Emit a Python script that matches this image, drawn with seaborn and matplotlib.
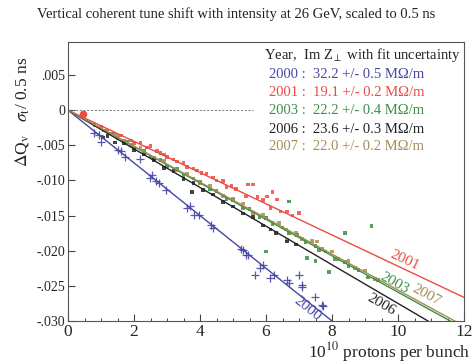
import numpy as np
import pandas as pd
import matplotlib
matplotlib.use('Agg')
import matplotlib.pyplot as plt
from matplotlib.ticker import FuncFormatter, MultipleLocator
import seaborn as sns

# ---- data ----
years = ['2000', '2001', '2003', '2006', '2007']
impedance = ['32.2 +/- 0.5', '19.1 +/- 0.2', '22.2 +/- 0.4', '23.6 +/- 0.3', '22.0 +/- 0.2']
fit_slope = [-0.00375, -0.00222, -0.00259, -0.00275, -0.00256]
colors = ['#4646a6', '#ee4a44', '#3a9044', '#222222', '#a58c55']

x2000 = [0.78, 0.93, 1.0, 1.52, 1.6, 1.73, 2.17, 2.47, 2.55, 2.68, 2.77, 2.98, 3.6, 3.7,
         3.81, 3.96, 4.32, 4.4, 5.25, 5.3, 5.39, 5.45, 5.68, 5.83, 5.9, 6.13, 6.25, 6.64,
         6.7, 7.0, 7.08, 7.1, 7.47, 7.7, 7.74]
y2000 = [-0.0032, -0.0036, -0.0046, -0.0056, -0.0058, -0.0066, -0.0070, -0.0096, -0.0092,
         -0.0101, -0.0103, -0.0113, -0.0139, -0.0136, -0.0149, -0.0149, -0.0163, -0.0167,
         -0.0198, -0.0199, -0.0206, -0.0206, -0.0234, -0.0224, -0.0220, -0.0239, -0.0234,
         -0.0241, -0.0246, -0.0234, -0.0251, -0.0249, -0.0266, -0.0277, -0.0279]

x2001 = [1.0, 1.2, 1.4, 1.6, 1.7, 1.9, 2.0, 2.2, 2.4, 2.5, 2.7, 2.8, 2.9, 3.0, 3.2, 3.3,
         3.5, 3.6, 3.8, 3.9, 4.05, 4.2, 4.4, 4.5, 4.7, 4.8, 4.95, 5.1, 5.4, 5.45, 5.6,
         5.74, 5.9, 6.04, 6.14, 6.2, 6.34, 6.44, 6.64, 6.8, 7.0]
y2001 = [-0.0024, -0.0029, -0.0033, -0.0036, -0.0044, -0.0043, -0.0047, -0.0046, -0.0053,
         -0.0051, -0.0058, -0.0061, -0.0063, -0.0067, -0.0070, -0.0073, -0.0075, -0.0081,
         -0.0083, -0.0086, -0.0089, -0.0090, -0.0096, -0.0100, -0.0101, -0.0109, -0.0108,
         -0.0112, -0.0123, -0.0106, -0.0106, -0.0124, -0.0128, -0.0123, -0.0139, -0.0116,
         -0.0127, -0.0144, -0.0144, -0.0150, -0.0146]
first_2001 = (0.45, -0.0006)

x2003 = [0.8, 1.1, 1.3, 1.5, 1.8, 2.0, 2.3, 2.5, 2.8, 3.0, 3.3, 3.5, 3.8, 4.0, 4.3, 4.5,
         4.8, 5.0, 5.3, 5.5, 5.8, 6.0, 6.2, 6.5, 6.7, 6.94, 7.2, 7.5, 7.6, 7.8, 8.1, 8.4,
         8.5, 8.8, 9.1, 9.4, 6.0, 7.25, 7.5, 7.9, 8.4, 6.7, 9.2]
y2003 = [-0.0021, -0.0029, -0.0033, -0.0040, -0.0045, -0.0053, -0.0058, -0.0066, -0.0071,
         -0.0079, -0.0084, -0.0092, -0.0097, -0.0102, -0.0113, -0.0115, -0.0126, -0.0128,
         -0.0139, -0.0141, -0.0152, -0.0153, -0.0162, -0.0167, -0.0175, -0.0178, -0.0188,
         -0.0193, -0.0199, -0.0201, -0.0212, -0.0216, -0.0222, -0.0227, -0.0238, -0.0242,
         -0.0201, -0.0210, -0.0215, -0.0230, -0.0175, -0.0130, -0.0165]

x2006 = [1.07, 1.2, 1.43, 1.7, 2.0, 2.3, 2.6, 2.9, 3.2, 3.5, 3.76, 3.8, 4.1, 4.4, 4.7,
         5.0, 5.3, 5.6, 5.9, 6.14, 6.3, 6.64, 6.9]
y2006 = [-0.0039, -0.0037, -0.0046, -0.0047, -0.0057, -0.0063, -0.0071, -0.0082, -0.0087,
         -0.0098, -0.0116, -0.0104, -0.0114, -0.0120, -0.0131, -0.0137, -0.0147, -0.0152,
         -0.0164, -0.0170, -0.0175, -0.0187, -0.0191]

x2007 = [1.5, 1.9, 2.2, 2.6, 2.9, 3.3, 3.6, 4.0, 4.3, 4.7, 5.0, 5.3, 5.6, 5.9, 6.2, 6.4,
         6.6, 6.9, 7.1, 7.4, 7.7, 8.0, 8.2, 8.5, 8.7, 9.0, 9.3, 6.64, 7.55]
y2007 = [-0.0037, -0.0050, -0.0054, -0.0068, -0.0072, -0.0086, -0.0090, -0.0104, -0.0108,
         -0.0122, -0.0126, -0.0133, -0.0146, -0.0149, -0.0160, -0.0161, -0.0170, -0.0174,
         -0.0183, -0.0186, -0.0198, -0.0201, -0.0212, -0.0215, -0.0225, -0.0228, -0.0240,
         -0.0184, -0.0187]

dots = pd.concat([
    pd.DataFrame({'x': x2001, 'y': y2001, 'year': '2001'}),
    pd.DataFrame({'x': x2003, 'y': y2003, 'year': '2003'}),
    pd.DataFrame({'x': x2007, 'y': y2007, 'year': '2007'}),
    pd.DataFrame({'x': x2006, 'y': y2006, 'year': '2006'}),
])
crosses = pd.DataFrame({'x': x2000, 'y': y2000, 'year': '2000'})

xlim = (0, 12)
ylim = (-0.030, 0.0097)
fits = pd.concat([pd.DataFrame({'x': list(xlim), 'y': [s * v for v in xlim], 'year': yr})
                  for yr, s in zip(years, fit_slope)])
palette = dict(zip(years, colors))

# ---- style ----
sns.set_theme(style='ticks')
plt.rcParams['font.family'] = ['Liberation Serif', 'DejaVu Serif']
plt.rcParams['mathtext.fontset'] = 'stix'

fig = plt.figure(figsize=(4.73, 3.64), dpi=100)
ax = fig.add_axes([68 / 473, 1 - 321 / 364, 396 / 473, 279 / 364])

ax.hlines(0, 0, 5.6, colors='#666666', linestyles=(0, (2.5, 2)), linewidth=0.6)
sns.lineplot(data=fits, x='x', y='y', hue='year', palette=palette, linewidth=1.0,
             legend=False, ax=ax)
sns.scatterplot(data=dots, x='x', y='y', hue='year', palette=palette, s=7,
                marker='s', linewidth=0, alpha=0.85, legend=False, ax=ax)
sns.scatterplot(data=crosses, x='x', y='y', color=colors[0], marker='+', s=40,
                linewidth=0.9, alpha=0.9, legend=False, ax=ax)
ax.plot(*first_2001, 'o', color=colors[1], markersize=4.5)

ax.set_xlim(*xlim)
ax.set_ylim(*ylim)
ax.set_xlabel('')
ax.set_ylabel('')
ax.xaxis.set_major_locator(MultipleLocator(2))
ax.xaxis.set_minor_locator(MultipleLocator(0.5))
ax.yaxis.set_major_locator(MultipleLocator(0.005))


def yfmt(v, pos):
    if abs(v) < 1e-9:
        return '0'
    s = f'{v:.3f}'
    return s.replace('0.', '.', 1)


ax.yaxis.set_major_formatter(FuncFormatter(yfmt))
ax.tick_params(axis='both', which='major', direction='in', length=5, width=0.8,
               color='#444444', pad=2)
ax.tick_params(axis='x', which='minor', direction='in', length=2.5, width=0.7,
               color='#444444')
ax.tick_params(axis='x', labelsize=12.5)
ax.tick_params(axis='y', labelsize=10)
for sp in ax.spines.values():
    sp.set_color('#555555')
    sp.set_linewidth(0.8)

# rotated labels along the fit lines
label_pos = {'2000': (7.25, -0.0283), '2001': (10.2, -0.0214), '2003': (9.9, -0.0246),
             '2007': (10.85, -0.0264), '2006': (9.5, -0.0277)}
for yr, s, c in zip(years, fit_slope, colors):
    p0 = ax.transData.transform((0, 0))
    p1 = ax.transData.transform((1, s))
    ang = np.degrees(np.arctan2(p1[1] - p0[1], p1[0] - p0[0]))
    lx, ly = label_pos[yr]
    ax.text(lx, ly, yr, color=c, rotation=ang, rotation_mode='anchor',
            ha='center', va='center', fontsize=11)

# year / impedance table
fig.text(264 / 473, 1 - 55 / 364, r'Year,  Im Z$_\perp$ with fit uncertainty',
         fontsize=10.5, ha='left', va='center', color='#222222')
for i, (yr, imp, c) in enumerate(zip(years, impedance, colors)):
    fig.text(269 / 473, 1 - (75 + 18 * i) / 364, f'{yr} :  {imp} MΩ/m',
             fontsize=10.5, ha='left', va='center', color=c)

fig.text(0.5, 1 - 14 / 364,
         'Vertical coherent tune shift with intensity at 26 GeV, scaled to 0.5 ns',
         fontsize=10.5, ha='center', va='center', color='#222222')
fig.text(470 / 473, 1 - 352 / 364, r'10$^{10}$ protons per bunch', fontsize=12.5,
         ha='right', va='center', color='#222222')
fig.text(22 / 473, 1 - 112 / 364, r'$\Delta$Q$_{\rm v}$   $\sigma_{\rm t}$/ 0.5 ns',
         fontsize=12.5, rotation=90, ha='center', va='center', color='#222222')

fig.savefig('out.png', dpi=100)
